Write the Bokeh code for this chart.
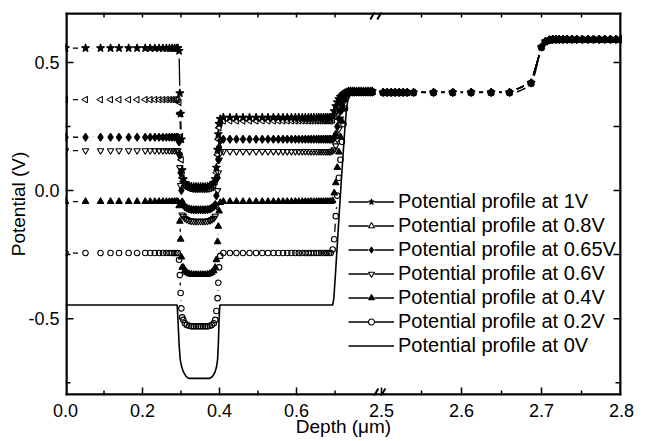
import math
from bokeh.plotting import figure
from bokeh.models import Range1d, FixedTicker, Legend, LegendItem, Arrow, BoxAnnotation
from bokeh.embed import file_html
from bokeh.resources import INLINE

# ---------------- data ----------------
X_FLAT1 = [0.0, 0.052, 0.091, 0.117, 0.139, 0.164, 0.186, 0.207, 0.220, 0.232, 0.243,
           0.253, 0.262, 0.270, 0.277, 0.283, 0.288, 0.292]
X_DROP = [0.295, 0.297, 0.299, 0.301, 0.303]
X_WELL = [0.306, 0.310, 0.315, 0.321, 0.327, 0.333, 0.339, 0.345, 0.351, 0.357, 0.363,
          0.369, 0.375, 0.380, 0.385, 0.389]
X_RISE = [0.392, 0.395, 0.397, 0.399, 0.402]
X_FLAT2 = [0.410, 0.427, 0.444, 0.461, 0.478, 0.495, 0.511, 0.526, 0.540, 0.553, 0.565,
           0.576, 0.587, 0.597, 0.606, 0.615, 0.623, 0.631, 0.638, 0.645, 0.652, 0.658,
           0.664, 0.670, 0.675, 0.680, 0.685, 0.689]
X_STEP = [0.694, 0.698, 0.702, 0.706, 0.710, 0.714, 0.718, 0.722, 0.726, 0.730]
X_TOP = [0.735, 0.740, 0.745, 0.750, 0.756, 0.762, 0.768, 0.774, 0.780, 0.786, 0.792, 0.797]
X_LEFT = X_FLAT1 + X_DROP + X_WELL + X_RISE + X_FLAT2 + X_STEP + X_TOP

Y_1V = ([0.556] * 18
        + [0.545, 0.38, 0.30, 0.20, 0.08]
        + [0.045, 0.03, 0.022, 0.018, 0.016, 0.015, 0.015, 0.015, 0.015, 0.015, 0.015,
           0.016, 0.018, 0.022, 0.03, 0.045]
        + [0.09, 0.16, 0.22, 0.26, 0.28]
        + [0.285] * 28
        + [0.29, 0.31, 0.33, 0.345, 0.357, 0.366, 0.372, 0.377, 0.381, 0.384]
        + [0.388] * 12)
Y_08V = ([0.355] * 18
         + [0.345, 0.30, 0.21, 0.12, 0.05]
         + [0.035, 0.02, 0.012, 0.008, 0.006, 0.005, 0.005, 0.005, 0.005, 0.005, 0.005,
            0.006, 0.008, 0.012, 0.02, 0.035]
         + [0.07, 0.14, 0.2, 0.245, 0.265]
         + [0.272] * 28
         + [0.275, 0.29, 0.31, 0.33, 0.345, 0.358, 0.367, 0.374, 0.379, 0.383]
         + [0.386] * 12)
Y_065V = ([0.208] * 18
          + [0.19, 0.14, 0.07, 0.0, -0.045]
          + [-0.055, -0.063, -0.068, -0.072, -0.074, -0.075, -0.075, -0.075, -0.075, -0.075,
             -0.075, -0.074, -0.072, -0.068, -0.063, -0.055]
          + [-0.02, 0.05, 0.12, 0.17, 0.195]
          + [0.2] * 28
          + [0.2, 0.205, 0.22, 0.25, 0.28, 0.31, 0.335, 0.355, 0.37, 0.38]
          + [0.385] * 12)
Y_06V = ([0.156] * 18
         + [0.14, 0.09, 0.02, -0.05, -0.095]
         + [-0.1, -0.108, -0.113, -0.117, -0.119, -0.12, -0.12, -0.12, -0.12, -0.12, -0.12,
            -0.119, -0.117, -0.113, -0.108, -0.1]
         + [-0.06, 0.0, 0.07, 0.12, 0.148]
         + [0.153] * 28
         + [0.155, 0.16, 0.175, 0.2, 0.24, 0.28, 0.315, 0.345, 0.365, 0.378]
         + [0.384] * 12)
Y_04V = ([-0.043] * 18
         + [-0.06, -0.12, -0.19, -0.26, -0.3]
         + [-0.30, -0.313, -0.32, -0.325, -0.327, -0.328, -0.328, -0.328, -0.328, -0.328,
            -0.328, -0.327, -0.325, -0.32, -0.313, -0.30]
         + [-0.27, -0.2, -0.14, -0.08, -0.047]
         + [-0.043] * 28
         + [-0.04, -0.01, 0.03, 0.09, 0.15, 0.21, 0.27, 0.32, 0.355, 0.377]
         + [0.383] * 12)
Y_02V = ([-0.244] * 18
         + [-0.27, -0.33, -0.40, -0.46, -0.495]
         + [-0.505, -0.518, -0.525, -0.528, -0.53, -0.53, -0.53, -0.53, -0.53, -0.53,
            -0.53, -0.53, -0.528, -0.525, -0.518, -0.505]
         + [-0.47, -0.42, -0.36, -0.3, -0.255]
         + [-0.244] * 28
         + [-0.23, -0.19, -0.1, -0.02, 0.05, 0.12, 0.19, 0.26, 0.32, 0.365]
         + [0.382] * 12)

# right part of the broken axis: all biased profiles coincide there
X_RIGHT = [2.502, 2.507, 2.512, 2.517, 2.522, 2.527, 2.532, 2.540, 2.565, 2.589, 2.612,
           2.637, 2.660, 2.687, 2.700, 2.705, 2.710, 2.714, 2.718, 2.722, 2.727, 2.732,
           2.738, 2.744, 2.751, 2.758, 2.765, 2.772, 2.779, 2.786, 2.793, 2.800]
Y_RIGHT = [0.383] * 13 + [0.42, 0.56, 0.582, 0.588] + [0.59] * 15

# 0 V profile (solid line)
X_0V = [0.0, 0.290, 0.292, 0.295, 0.298, 0.302, 0.307, 0.313, 0.320, 0.375, 0.382, 0.388,
        0.392, 0.395, 0.397, 0.399, 0.401, 0.694, 0.697, 0.701, 0.706, 0.711, 0.716, 0.721,
        0.726, 0.730, 0.734, 0.739, 0.746, 0.797]
Y_0V = [-0.447, -0.447, -0.50, -0.60, -0.66, -0.69, -0.71, -0.725, -0.733, -0.733, -0.725,
        -0.71, -0.69, -0.66, -0.60, -0.50, -0.447, -0.447, -0.42, -0.33, -0.21, -0.09, 0.03,
        0.14, 0.25, 0.32, 0.36, 0.38, 0.385, 0.385]
X_0V_RIGHT = [2.502, 2.600, 2.660, 2.670, 2.675, 2.680, 2.685, 2.689, 2.692, 2.695, 2.698,
              2.701, 2.704, 2.708, 2.715, 2.800]
Y_0V_RIGHT = [0.383, 0.383, 0.383, 0.386, 0.392, 0.400, 0.413, 0.432, 0.46, 0.50, 0.54,
              0.565, 0.58, 0.588, 0.59, 0.59]

LABELS = ["Potential profile at 1V", "Potential profile at 0.8V", "Potential profile at 0.65V",
          "Potential profile at 0.6V", "Potential profile at 0.4V", "Potential profile at 0.2V"]
LABEL_0V = "Potential profile at 0V"

X_TICKS_LEFT = [0.0, 0.2, 0.4, 0.6]
X_MINOR_LEFT = [0.1, 0.3, 0.5, 0.7]
X_TICKS_RIGHT = [2.5, 2.6, 2.7, 2.8]
X_MINOR_RIGHT = [2.55, 2.65, 2.75]
Y_TICKS = [-0.5, 0.0, 0.5]
Y_MINOR = [-0.75, -0.25, 0.25]

# ---------------- broken axis geometry ----------------
FRAME_W = 556.0           # frame width, px
FRAME_H = 383.0           # frame height, px
SCALE_L = 385.0           # px per µm, left part
SCALE_R = 800.0           # px per µm, right part
R_START = 2.8 - FRAME_W / SCALE_R
Y_MIN, Y_MAX = -0.80, 0.695


def to_u(x):
    """position of a right-part depth in the left part's (default range) units"""
    return (x - R_START) * SCALE_R / SCALE_L


U_END = to_u(2.8)
FONT = "Liberation Sans"

p = figure(width=645, height=441, x_range=Range1d(0, U_END), y_range=Range1d(Y_MIN, Y_MAX),
           output_backend="svg", toolbar_location=None,
           min_border_left=65, min_border_right=24, min_border_top=12, min_border_bottom=46)
p.extra_x_ranges = {"r": Range1d(R_START, 2.8)}
p.grid.visible = False
p.outline_line_color = None


def style_axis(ax):
    ax.axis_line_color = None
    ax.major_tick_line_color = None
    ax.minor_tick_line_color = None
    ax.major_tick_in = 0
    ax.major_tick_out = 0
    ax.minor_tick_in = 0
    ax.minor_tick_out = 0
    ax.major_label_text_font = FONT
    ax.major_label_text_color = "black"
    ax.major_label_text_font_size = "18px"
    ax.axis_label_text_font = FONT
    ax.axis_label_text_font_style = "normal"
    ax.axis_label_text_color = "black"
    ax.axis_label_text_font_size = "19px"


bottom_major = X_TICKS_LEFT + [to_u(v) for v in X_TICKS_RIGHT]
bottom_minor = X_MINOR_LEFT + [to_u(v) for v in X_MINOR_RIGHT]
overrides = {v: f"{v:.1f}" for v in X_TICKS_LEFT}
overrides.update({to_u(v): f"{v:.1f}" for v in X_TICKS_RIGHT})
xb = p.xaxis[0]
xb.ticker = FixedTicker(ticks=bottom_major, minor_ticks=bottom_minor)
xb.major_label_overrides = overrides
xb.axis_label = "Depth (μm)"
style_axis(xb)
xb.major_label_standoff = 8
xb.axis_label_standoff = -4

yl = p.yaxis[0]
yl.ticker = FixedTicker(ticks=Y_TICKS, minor_ticks=Y_MINOR)
yl.major_label_overrides = {v: f"{v:.1f}" for v in Y_TICKS}
yl.axis_label = "Potential (V)"
style_axis(yl)
yl.major_label_standoff = 6
yl.axis_label_standoff = -4

DX = U_END / FRAME_W
DY = (Y_MAX - Y_MIN) / FRAME_H

# ---------------- series: line with gaps around the symbols ----------------
SERIES = [Y_1V, Y_08V, Y_065V, Y_06V, Y_04V, Y_02V]
MARKERS = [("star", 8.5, "black", 0.0), ("triangle", 6.5, None, math.pi / 2),
           ("diamond", 8, "black", 0.0), ("inverted_triangle", 6.5, None, 0.0),
           ("triangle", 6.5, "black", 0.0), ("circle", 5.5, None, 0.0)]
HALO = 15

p.line(X_0V_RIGHT, Y_0V_RIGHT, line_color="black", line_width=1.6, x_range_name="r")
lines = []
for ys in SERIES:
    lines.append(p.line(X_LEFT, ys, line_color="black", line_width=1.3))
    p.line(X_RIGHT, Y_RIGHT, line_color="black", line_width=1.3, x_range_name="r")
halos = []
for ys in SERIES:
    halos.append(p.scatter(X_LEFT, ys, marker="circle", size=HALO, fill_color="white",
                           line_color=None))
    p.scatter(X_RIGHT, Y_RIGHT, marker="circle", size=HALO, fill_color="white",
              line_color=None, x_range_name="r")
line0 = p.line(X_0V, Y_0V, line_color="black", line_width=1.6)

items = []
for ys, label, (mk, sz, fill, ang), ln, hl in zip(SERIES, LABELS, MARKERS, lines, halos):
    kw = dict(marker=mk, size=sz, line_color="black", line_width=1.1, angle=ang,
              fill_color=fill if fill else "white", fill_alpha=1.0 if fill else 0.0)
    r = p.scatter(X_LEFT, ys, **kw)
    p.scatter(X_RIGHT, Y_RIGHT, x_range_name="r", **kw)
    items.append(LegendItem(label=label, renderers=[ln, hl, r]))
items.append(LegendItem(label=LABEL_0V, renderers=[line0]))

legend = Legend(items=items, location=(283, 38), glyph_width=46, glyph_height=15,
                label_height=24, label_standoff=4, spacing=0, padding=0, margin=0,
                border_line_color=None, background_fill_alpha=0.0,
                label_text_font=FONT, label_text_font_size="20px", label_text_color="black")
p.add_layout(legend)

# ---------------- frame + ticks drawn as thin filled bars inside the frame ----------------
T = 2.0  # frame thickness, px
qx0, qx1, qy0, qy1 = [], [], [], []


def bar(x0, x1, y0, y1):
    qx0.append(x0)
    qx1.append(x1)
    qy0.append(y0)
    qy1.append(y1)


bar(0, U_END, Y_MIN, Y_MIN + T * DY)                 # bottom edge
bar(0, U_END, Y_MAX - T * DY, Y_MAX)                 # top edge
bar(0, T * DX, Y_MIN, Y_MAX)                         # left edge
bar(U_END - T * DX, U_END, Y_MIN, Y_MAX)             # right edge
for u in bottom_major[1:-1]:
    bar(u - 0.75 * DX, u + 0.75 * DX, Y_MIN, Y_MIN + 8 * DY)
for u in bottom_minor:
    bar(u - 0.75 * DX, u + 0.75 * DX, Y_MIN, Y_MIN + 5 * DY)
top_ticks = X_TICKS_LEFT[1:] + X_MINOR_LEFT + [to_u(v) for v in X_TICKS_RIGHT[1:-1] + X_MINOR_RIGHT]
for u in top_ticks:
    bar(u - 0.75 * DX, u + 0.75 * DX, Y_MAX - 5 * DY, Y_MAX)
for v in Y_TICKS:
    bar(0, 8 * DX, v - 0.75 * DY, v + 0.75 * DY)
    bar(U_END - 8 * DX, U_END, v - 0.75 * DY, v + 0.75 * DY)
for v in Y_MINOR:
    bar(0, 5 * DX, v - 0.75 * DY, v + 0.75 * DY)
    bar(U_END - (8 if v > -0.7 else 6) * DX, U_END, v - 0.75 * DY, v + 0.75 * DY)
p.quad(left=qx0, right=qx1, bottom=qy0, top=qy1, fill_color="black", line_color=None)

# same frame as an annotation (not clipped)
for b in [dict(left=0, right=U_END, bottom=Y_MIN, top=Y_MIN + T * DY),
          dict(left=0, right=U_END, bottom=Y_MAX - T * DY, top=Y_MAX),
          dict(left=0, right=T * DX, bottom=Y_MIN, top=Y_MAX),
          dict(left=U_END - T * DX, right=U_END, bottom=Y_MIN, top=Y_MAX)]:
    p.add_layout(BoxAnnotation(fill_color="black", fill_alpha=1.0, line_color=None, **b))

# axis-break marks
u_c = to_u(2.496)
for y0 in (Y_MIN, Y_MAX):
    for off in (-4.0, 3.0):
        p.add_layout(Arrow(end=None, x_start=u_c + (off - 4) * DX, y_start=y0 - 7 * DY,
                           x_end=u_c + (off + 4) * DX, y_end=y0 + 7 * DY,
                           line_width=2, line_color="black"))

open("out.html", "w").write(file_html(p, INLINE))
